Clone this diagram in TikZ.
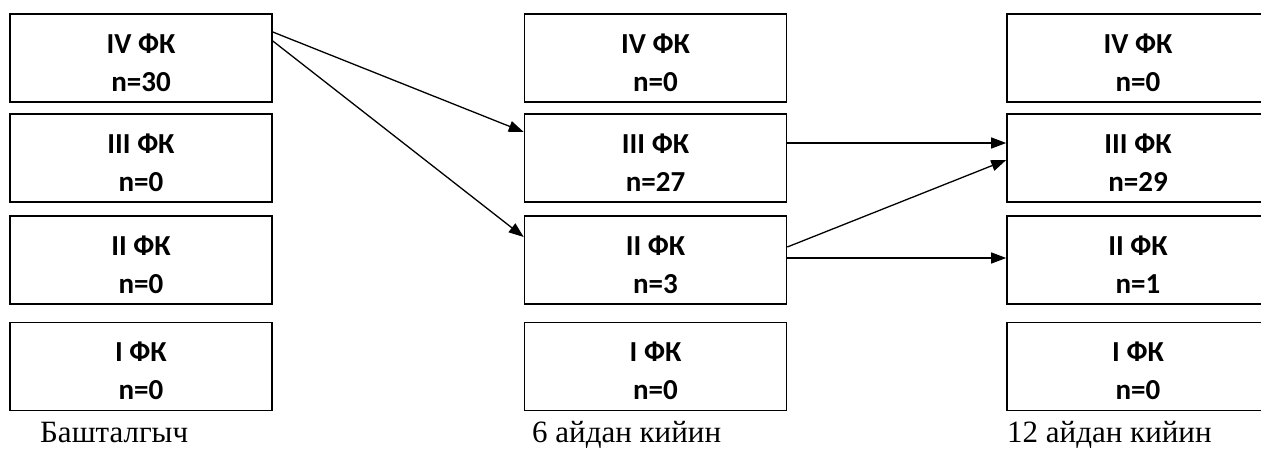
\documentclass[tikz,border=0pt]{standalone}
\usepackage{fontspec}
\setmainfont{Liberation Serif}
\newfontfamily\boxfont{Carlito}
\usetikzlibrary{arrows.meta}

% two lines of a box, set a little below the middle
\newcommand\fkcell[2]{\raisebox{-6.5pt}[\height][\depth]{\begin{tabular}{@{}c@{}}#1\\#2\end{tabular}}}

\begin{document}
\begin{tikzpicture}[x=1pt, y=-1pt,
	fk/.style={draw, line width=1.6pt, minimum width=262pt, minimum height=88pt,
		font=\boxfont\bfseries\fontsize{29}{38}\selectfont},
	lbl/.style={anchor=base west, inner sep=0pt, font=\fontsize{31}{34}\selectfont},
	>={Triangle[length=15pt, width=11pt]}]
	\useasboundingbox (0,0) rectangle (1261,448);
	\clip (0,0) rectangle (1261,448);

	\node[fk] (A4) at (141,58) {\fkcell{IV ФК}{n=30}};
	\node[fk] (A3) at (141,158) {\fkcell{III ФК}{n=0}};
	\node[fk] (A2) at (141,260) {\fkcell{II ФК}{n=0}};
	\node[fk] (A1) at (141,366.5) {\fkcell{I ФК}{n=0}};

	\node[fk] (B4) at (655.5,58) {\fkcell{IV ФК}{n=0}};
	\node[fk] (B3) at (655.5,158) {\fkcell{III ФК}{n=27}};
	\node[fk] (B2) at (655.5,260) {\fkcell{II ФК}{n=3}};
	\node[fk] (B1) at (655.5,366.5) {\fkcell{I ФК}{n=0}};

	\node[fk] (C4) at (1138,58) {\fkcell{IV ФК}{n=0}};
	\node[fk] (C3) at (1138,158) {\fkcell{III ФК}{n=29}};
	\node[fk] (C2) at (1138,260) {\fkcell{II ФК}{n=1}};
	\node[fk] (C1) at (1138,366.5) {\fkcell{I ФК}{n=0}};

	\node[lbl] (tA) at (40,442) {Башталгыч};
	\node[lbl] (tB) at (532,442) {6 айдан кийин};
	\node[lbl] (tC) at (1007,442) {12 айдан кийин};

	\draw [->, line width=1.3pt] ([yshift=26pt]A4.east) -- ([yshift=26pt]B3.west);
	\draw [->, line width=1.3pt] ([yshift=17pt]A4.east) -- ([yshift=23pt]B2.west);

	\draw [->, line width=1.3pt] ([yshift=15pt]B3.east) -- ([yshift=15pt]C3.west);
	\draw [->, line width=1.3pt] ([yshift=13pt]B2.east) -- ([yshift=-2pt]C3.west);
	\draw [->, line width=1.3pt] ([yshift=2pt]B2.east) -- ([yshift=2pt]C2.west);

	\end{tikzpicture}
\end{document}
